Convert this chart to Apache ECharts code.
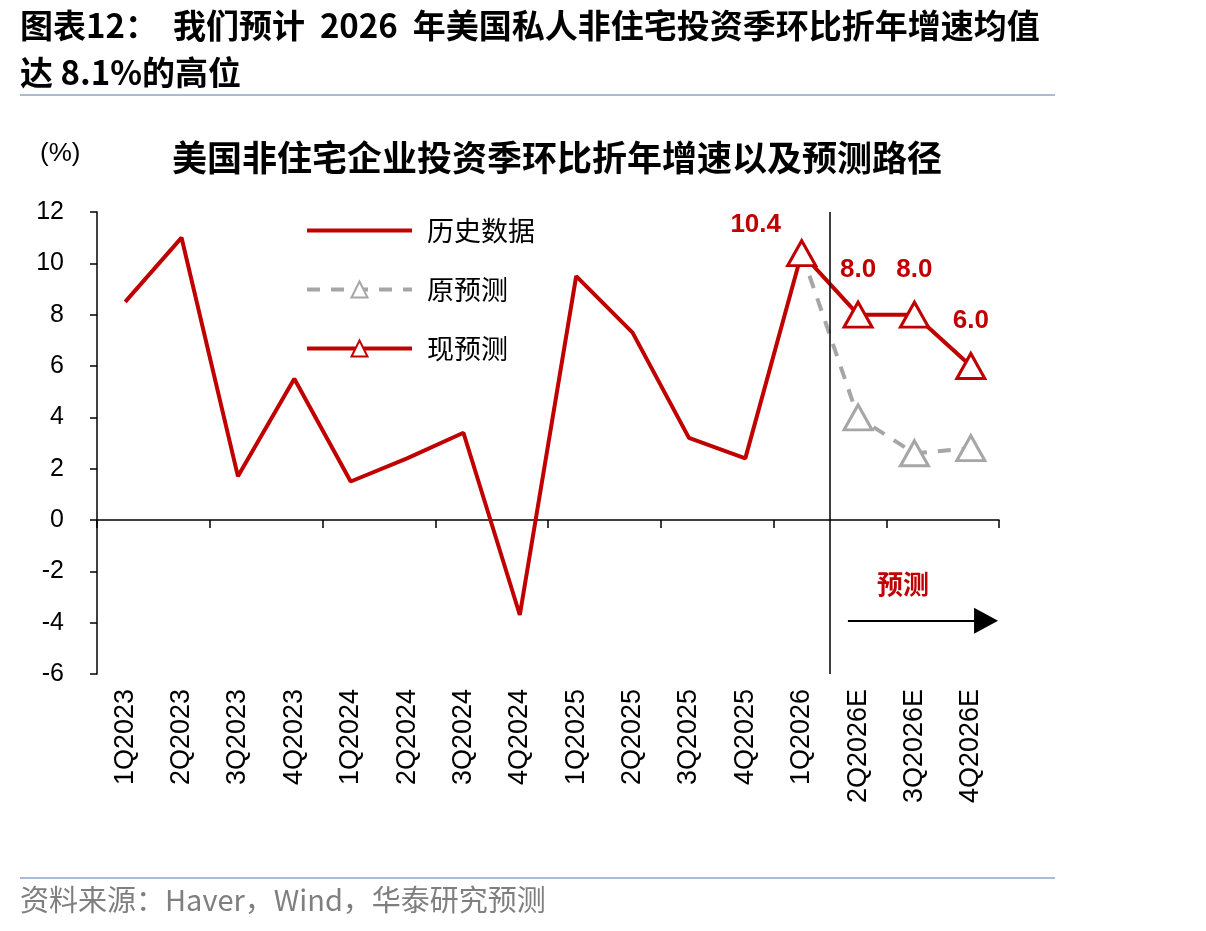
<!DOCTYPE html>
<html>
<head>
<meta charset="utf-8">
<script src="https://cdn.jsdelivr.net/npm/echarts@6/dist/echarts.min.js"></script>
<style>
  html, body { margin: 0; padding: 0; background: #fff; }
  #chart { width: 1206px; height: 931px; }
</style>
</head>
<body>
<div id="chart"></div>
<script>
const quarters = ["1Q2023", "2Q2023", "3Q2023", "4Q2023", "1Q2024", "2Q2024", "3Q2024", "4Q2024",
  "1Q2025", "2Q2025", "3Q2025", "4Q2025", "1Q2026", "2Q2026E", "3Q2026E", "4Q2026E"];
const history = [8.5, 11.0, 1.7, 5.5, 1.5, 2.4, 3.4, -3.7, 9.5, 7.3, 3.2, 2.4, 10.4, null, null, null];
const oldForecast = [null, null, null, null, null, null, null, null, null, null, null, null, 10.4, 4.0, 2.6, 2.8];
const newForecast = [null, null, null, null, null, null, null, null, null, null, null, null, 10.4, 8.0, 8.0, 6.0];
const yTicks = { min: -6, max: 12, step: 2 };

const RED = "#c00000";
const GRAY = "#a6a6a6";
const LATIN = "'Liberation Sans', Arial, 'Noto Sans CJK SC'";
const CJK = "'Noto Sans CJK SC', 'Liberation Sans'";

const chart = echarts.init(document.getElementById("chart"), null, { renderer: "canvas" });

const option = {
  backgroundColor: "#fff",
  animation: false,
  title: [
    {
      text: "图表12：  我们预计  2026  年美国私人非住宅投资季环比折年增速均值\n达 8.1%的高位",
      left: 20, top: 2, padding: 0,
      textStyle: { fontFamily: CJK, fontSize: 33, fontWeight: "bold", color: "#000", lineHeight: 47 }
    },
    {
      text: "美国非住宅企业投资季环比折年增速以及预测路径",
      left: 557, top: 140, textAlign: "center", padding: 0,
      textStyle: { fontFamily: CJK, fontSize: 35, fontWeight: "bold", color: "#000" }
    },
    {
      text: "(%)",
      left: 40, top: 141, padding: 0,
      textStyle: { fontFamily: LATIN, fontSize: 26, fontWeight: "normal", color: "#000" }
    },
    {
      text: "资料来源：Haver，Wind，华泰研究预测",
      left: 20, top: 885, padding: 0,
      textStyle: { fontFamily: CJK, fontSize: 29, fontWeight: "normal", color: "#7f7f7f" }
    }
  ],
  graphic: [
    { type: "line", shape: { x1: 20, y1: 95, x2: 1055, y2: 95 }, style: { stroke: "#a9bcd5", lineWidth: 2 } },
    { type: "line", shape: { x1: 20, y1: 878, x2: 1055, y2: 878 }, style: { stroke: "#a9bcd5", lineWidth: 2 } }
  ],
  legend: {
    data: [
      { name: "历史数据", itemStyle: { opacity: 0 } },
      { name: "原预测" },
      { name: "现预测" }
    ],
    orient: "vertical",
    left: 305, top: 217,
    padding: 0,
    itemWidth: 105, itemHeight: 20, itemGap: 32,
    lineStyle: { width: 4 },
    textStyle: { fontFamily: CJK, fontSize: 27, color: "#000", padding: [0, 0, 0, 10] }
  },
  grid: { left: 97, top: 212, width: 902, height: 462 },
  xAxis: [
    {
      type: "category", data: quarters, position: "bottom",
      axisLine: { show: false, onZero: false }, axisTick: { show: false },
      axisLabel: { rotate: 90, margin: 15, fontFamily: LATIN, fontSize: 27, color: "#000", interval: 0 }
    },
    {
      type: "category", data: quarters, position: "bottom",
      axisLine: { show: true, onZero: true, onZeroAxisIndex: 0, lineStyle: { color: "#000", width: 1.5 } },
      axisTick: { show: true, length: 8, lineStyle: { color: "#000", width: 1.5 } },
      axisLabel: { show: false }
    },
    { type: "value", min: 0, max: 16, show: false }
  ],
  yAxis: {
    type: "value", min: yTicks.min, max: yTicks.max, interval: yTicks.step,
    axisLine: { show: true, onZero: false, lineStyle: { color: "#000", width: 1.5 } },
    axisTick: { show: true, length: 7, lineStyle: { color: "#000", width: 1.5 } },
    axisLabel: { margin: 33, fontFamily: LATIN, fontSize: 25, color: "#000" },
    splitLine: { show: false }
  },
  series: [
    {
      name: "历史数据", type: "line", data: history, xAxisIndex: 0,
      symbol: "none", lineStyle: { color: RED, width: 4 }, itemStyle: { color: RED }, z: 3
    },
    {
      name: "原预测", type: "line", xAxisIndex: 0,
      data: oldForecast.map((v, i) => (i === 12 ? { value: v, symbol: "none" } : v)),
      symbol: "triangle", symbolSize: [28, 25], showSymbol: true,
      lineStyle: { color: GRAY, width: 4, type: [13, 11] },
      itemStyle: { color: "#fff", borderColor: GRAY, borderWidth: 3 }, z: 2
    },
    {
      name: "现预测", type: "line", xAxisIndex: 0,
      data: newForecast.map((v, i) => (i === 12 ? { value: v, label: { offset: [-46, 17] } } : v)),
      symbol: "triangle", symbolSize: [28, 25],
      lineStyle: { color: RED, width: 4 },
      itemStyle: { color: "#fff", borderColor: RED, borderWidth: 3 },
      label: {
        show: true, position: "top", distance: 18,
        formatter: (p) => p.value.toFixed(1),
        fontFamily: LATIN, fontSize: 26, fontWeight: "bold", color: RED
      },
      z: 4
    },
    {
      type: "line", data: [], xAxisIndex: 2, yAxisIndex: 0, clip: false, silent: true,
      markLine: {
        silent: true, animation: false,
        symbol: ["none", "none"],
        label: { show: false },
        lineStyle: { color: "#000", width: 1.5, type: "solid" },
        emphasis: { disabled: true },
        data: [
          [{ coord: [13, 12] }, { coord: [13, -6] }],
          [
            {
              coord: [13.32, -3.93], symbol: "none",
              lineStyle: { color: "#000", width: 2, type: "solid" },
              label: {
                show: true, position: "middle", formatter: "预测", distance: 24, offset: [-14, 0],
                fontFamily: CJK, fontSize: 26, fontWeight: "bold", color: RED
              }
            },
            { coord: [15.77, -3.93], symbol: "triangle", symbolSize: [26, 24] }
          ]
        ]
      }
    }
  ]
};

chart.setOption(option);
</script>
</body>
</html>
